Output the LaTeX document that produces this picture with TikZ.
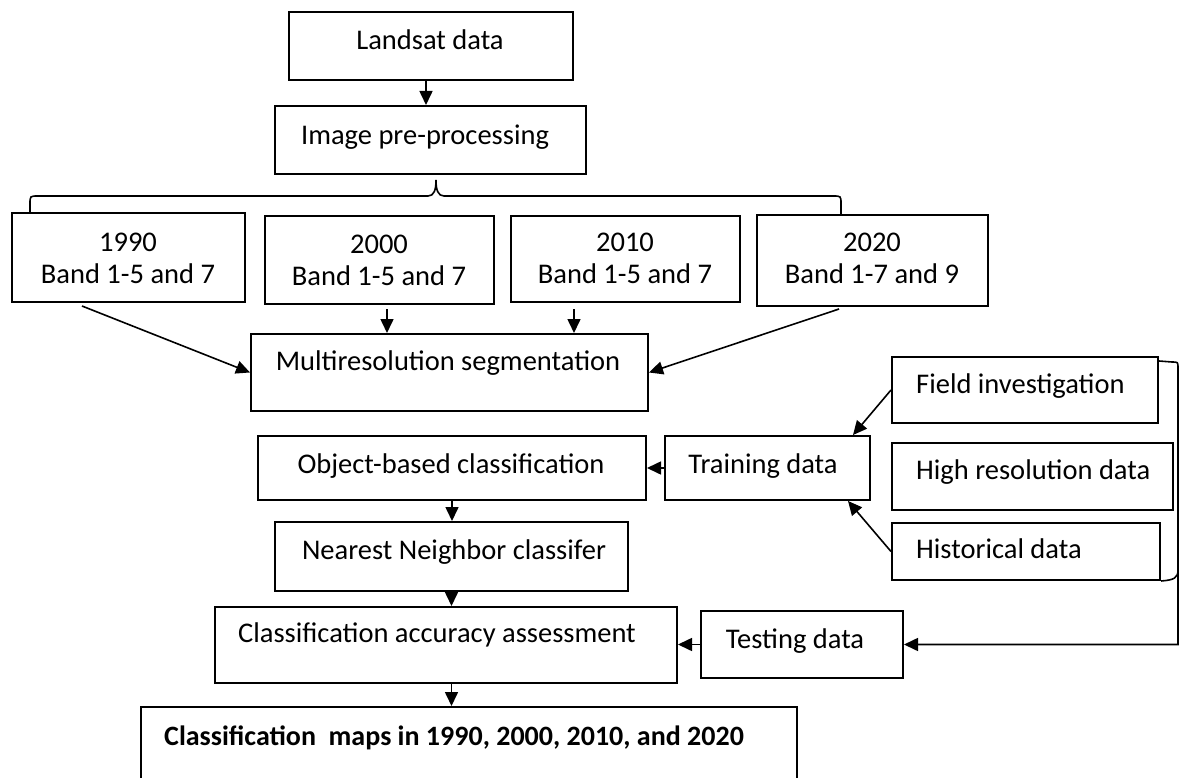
\documentclass[tikz,border=0pt]{standalone}
\usepackage{fontspec}
\setmainfont{Carlito}
\usetikzlibrary{arrows.meta}
\newcommand\mkbox[5]{\node[boxst, minimum width={#4-#2}, minimum height={#5-#3}] (#1) at ({(#2+#4)/2},{(#3+#5)/2}) {};}
\begin{document}
\begin{tikzpicture}[x=1pt,y=-1pt,
  boxst/.style={draw, rectangle, line width=2pt, inner sep=0pt},
  txt/.style={inner sep=0pt, font=\fontsize{28.5}{32}\selectfont},
  arr/.style={line width=1.6pt, -{Triangle[length=14pt,width=13pt]}},
  lin/.style={line width=1.6pt}]
\useasboundingbox (0,0) rectangle (1180,778);
\clip (0,0) rectangle (1180,778);
% boxes
\mkbox{landsat}{289}{12}{573}{80}
\mkbox{preproc}{275}{106}{586}{174}
\mkbox{y1990}{12}{213}{245}{302}
\mkbox{y2000}{265}{216}{494}{304}
\mkbox{y2010}{511}{216}{740}{302}
\mkbox{y2020}{757}{215}{988}{306}
\mkbox{multires}{251}{334}{648}{411}
\mkbox{field}{892}{357}{1158}{423}
\mkbox{training}{665}{436}{870}{500}
\mkbox{highres}{892}{443}{1173}{510}
\mkbox{historical}{892}{523}{1160}{580}
\mkbox{object}{258}{436}{646}{500}
\mkbox{nearest}{275}{522}{628}{591}
\mkbox{accuracy}{215}{607}{677}{683}
\mkbox{testing}{701}{611}{903}{678}
\mkbox{maps}{141}{707}{797}{800}
% texts
\node[txt, anchor=base] (tlandsat) at (430,50) {Landsat data};
\node[txt, anchor=base] (tpreproc) at (425,145) {Image pre-processing};
\node[txt, anchor=base] (t1990a) at (128,251) {1990};
\node[txt, anchor=base] (t1990b) at (128,283) {Band 1-5 and 7};
\node[txt, anchor=base] (t2000a) at (379,253) {2000};
\node[txt, anchor=base] (t2000b) at (379,285) {Band 1-5 and 7};
\node[txt, anchor=base] (t2010a) at (625,251) {2010};
\node[txt, anchor=base] (t2010b) at (625,283) {Band 1-5 and 7};
\node[txt, anchor=base] (t2020a) at (872,251) {2020};
\node[txt, anchor=base] (t2020b) at (872,283) {Band 1-7 and 9};
\node[txt, anchor=base] (tmultires) at (448,370) {Multiresolution segmentation};
\node[txt, anchor=base west] (tfield) at (916,393) {Field investigation};
\node[txt, anchor=base] (ttraining) at (763,473) {Training data};
\node[txt, anchor=base west] (thighres) at (916,479) {High resolution data};
\node[txt, anchor=base west] (thistorical) at (916,558) {Historical data};
\node[txt, anchor=base] (tobject) at (451,473) {Object-based classification};
\node[txt, anchor=base] (tnearest) at (454,559) {Nearest Neighbor classifer};
\node[txt, anchor=base] (taccuracy) at (437,642) {Classification accuracy assessment};
\node[txt, anchor=base] (ttesting) at (795,648) {Testing data};
\node[txt, anchor=base west, font=\fontsize{28}{32}\selectfont\bfseries] (tmaps) at (164,745) {Classification\ \ maps in 1990, 2000, 2010, and 2020};
% brace below pre-processing
\coordinate (bl) at (30,213);
\coordinate (br) at (841,215);
\coordinate (btip) at (436,180);
\draw[lin] (bl) -- (30,204) .. controls (30,196) .. (38,196) -- (428,196)
  .. controls (434,196) and (436,190) .. (btip)
  .. controls (436,190) and (438,196) .. (444,196) -- (833,196)
  .. controls (841,196) .. (841,204) -- (br);
% arrows
\draw[arr] ([xshift=-5pt]landsat.south) -- ([xshift=-5pt]landsat.south |- preproc.north);
\draw[arr] ([xshift=-46.5pt,yshift=-3pt]y1990.south) -- (multires.west);
\draw[arr] ([xshift=7.5pt,yshift=-4pt]y2000.south) -- ([xshift=7.5pt]y2000.south |- multires.north);
\draw[arr] ([xshift=-51.5pt,yshift=-6pt]y2010.south) -- ([xshift=-51.5pt]y2010.south |- multires.north);
\draw[arr] ([xshift=-33.5pt,yshift=-2pt]y2020.south) -- (multires.east);
\draw[arr] (field.west) -- ([xshift=-18pt]training.north east);
\draw[arr] (historical.west) -- ([xshift=-23pt]training.south east);
\draw[arr] (training.west) -- (object.east);
\draw[arr] (object.south) -- (object.south |- nearest.north);
\draw[arr] (nearest.south) -- (nearest.south |- accuracy.north);
\draw[arr] (nearest.south |- accuracy.south) -- (nearest.south |- maps.north);
\draw[arr] (testing.west) -- (testing.west -| accuracy.east);
% right bracket and feedback to testing data
\coordinate (rbar) at (1178,362);
\draw[arr] ([yshift=-5pt]field.north east) -- (1172,362) .. controls (1178,362) .. (1178,368)
  -- (rbar |- testing.east) -- (testing.east);
\draw[lin] (historical.south east) .. controls (1174,580) and (1178,578) .. (1178,570);
\end{tikzpicture}
\end{document}
